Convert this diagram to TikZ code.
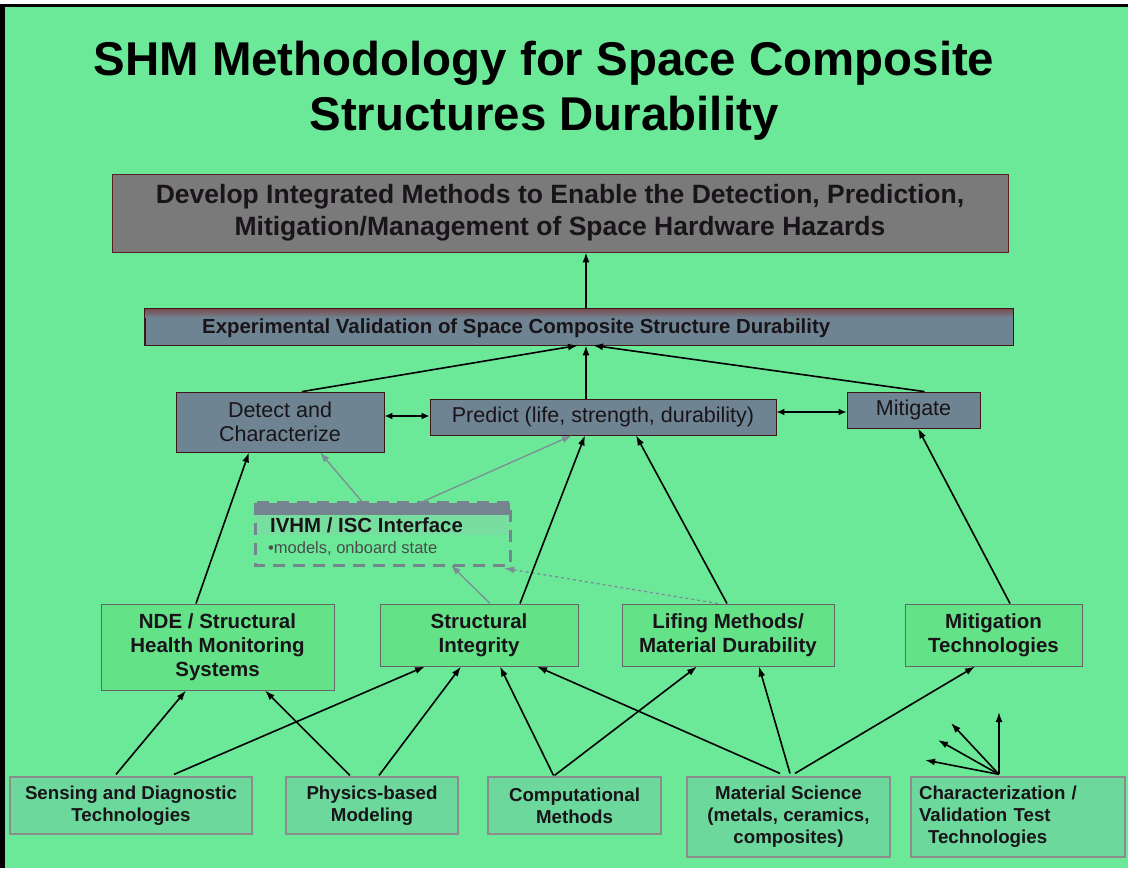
\documentclass[tikz,border=0pt]{standalone}
\usepackage{fontspec}
\setmainfont{Liberation Sans}
\usetikzlibrary{arrows.meta}
\definecolor{bg}{RGB}{107,233,152}
\definecolor{topgray}{RGB}{122,122,122}
\definecolor{slate}{RGB}{111,132,146}
\definecolor{midgreen}{RGB}{100,226,136}
\definecolor{botgreen}{RGB}{108,216,156}
\definecolor{ivgray}{RGB}{117,132,143}
\definecolor{lightband}{RGB}{120,222,160}
\definecolor{darkred}{RGB}{90,30,35}
\definecolor{txt}{RGB}{25,20,25}
\definecolor{arrgray}{RGB}{125,140,150}
\tikzset{
  arr/.style={line width=1.6pt, black, -{Latex[length=10pt,width=7pt]}},
  dblarr/.style={line width=1.6pt, black, {Latex[length=8pt,width=7pt]}-{Latex[length=8pt,width=7pt]}},
  garr/.style={line width=1.3pt, arrgray, -{Latex[length=10pt,width=7pt]}},
  slatebox/.style={draw=darkred!70!black, line width=0.8pt, fill=slate, inner sep=0pt, align=center, text=txt, font=\fontsize{21.5}{24}\selectfont},
  midbox/.style={draw=black!60, line width=1pt, fill=midgreen, inner sep=0pt, align=center, text=txt, font=\fontsize{20.5}{24}\selectfont\bfseries},
  botbox/.style={draw=black!45, line width=1.2pt, fill=botgreen, inner sep=0pt, align=center, text=txt, font=\fontsize{18.7}{22}\selectfont\bfseries},
}
\begin{document}
\begin{tikzpicture}[x=1pt,y=-1pt]
\useasboundingbox (0,0) rectangle (1128,871);
\fill[bg] (0,0) rectangle (1128,868);
\fill[white] (0,868) rectangle (1128,871);
\fill[white] (0,0) rectangle (1128,4);
\fill[black] (0,4) rectangle (1128,7);
\fill[black] (0,4) rectangle (5,868);

% title
\node[anchor=base, font=\fontsize{47.4}{57}\selectfont\bfseries, text=black, inner sep=0pt] (title1) at (544,75) {SHM Methodology for Space Composite};
\node[anchor=base, font=\fontsize{47.4}{57}\selectfont\bfseries, text=black, inner sep=0pt] (title2) at (544,130) {Structures Durability};

% top goal box
\node[draw=darkred, line width=0.8pt, fill=topgray, minimum width=896pt, minimum height=78pt, inner sep=0pt, align=center, text=txt, font=\fontsize{26.5}{32}\selectfont\bfseries] (goal) at (560,213) {Develop Integrated Methods to Enable the Detection, Prediction,\\Mitigation/Management of Space Hardware Hazards};

% experimental validation box
\node[slatebox, minimum width=868pt, minimum height=36pt] (exp) at (579,327) {};
\shade[top color=darkred!80, bottom color=slate] (exp.north west) rectangle ([yshift=-9pt]exp.north east);
\draw[darkred!70!black, line width=0.8pt] (exp.north west) rectangle (exp.south east);
\node[anchor=west, inner sep=0pt, text=txt, font=\fontsize{20.4}{22}\selectfont\bfseries] (explabel) at (202,328) {Experimental Validation of Space Composite Structure Durability};

% second row
\node[slatebox, minimum width=208pt, minimum height=60pt] (detect) at (280,422) {Detect and\\Characterize};
\node[slatebox, minimum width=346pt, minimum height=36pt] (predict) at (603,417) {Predict (life, strength, durability)};
\node[slatebox, minimum width=133pt, minimum height=36pt] (mitigate) at (913.5,410) {Mitigate};

% IVHM box
\node[minimum width=254pt, minimum height=62pt, inner sep=0pt] (ivhm) at (383,534) {};
\fill[ivgray] (ivhm.north west) rectangle ([yshift=-12pt]ivhm.north east);
\fill[lightband] ([yshift=-12pt]ivhm.north west) rectangle ([yshift=-32pt]ivhm.north east);
\draw[ivgray, line width=3pt, dash pattern=on 12pt off 8pt] (ivhm.north west) rectangle (ivhm.south east);
\node[anchor=base west, inner sep=0pt, text=txt, font=\fontsize{20.4}{22}\selectfont\bfseries] (ivhmtitle) at (270,532) {IVHM / ISC Interface};
\node[anchor=base west, inner sep=0pt, text=black!70, font=\fontsize{16.5}{18}\selectfont] (ivhmtext) at (268,553) {\textbullet models, onboard state};

% middle row
\node[midbox, minimum width=233pt, minimum height=86pt] (nde) at (217.5,647) {NDE / Structural\\Health Monitoring\\Systems};
\node[midbox, minimum width=198pt, minimum height=62pt] (si) at (479,635) {Structural\\Integrity};
\node[midbox, minimum width=212pt, minimum height=62pt] (lif) at (728,635) {Lifing Methods/\\Material Durability};
\node[midbox, minimum width=177pt, minimum height=62pt] (mitt) at (993.5,635) {Mitigation\\Technologies};

% bottom row
\node[botbox, minimum width=242pt, minimum height=57pt] (sens) at (131,805.5) {Sensing and Diagnostic\\Technologies};
\node[botbox, minimum width=172pt, minimum height=57pt] (phys) at (372,805.5) {Physics-based\\Modeling};
\node[botbox, minimum width=173pt, minimum height=57pt] (comp) at (574.5,805.5) {Computational\\Methods};
\node[botbox, minimum width=203pt, minimum height=80pt] (mat) at (788.5,817) {Material Science\\(metals, ceramics,\\composites)};
\node[botbox, minimum height=80pt, text width=198pt, inner xsep=8pt, align=left] (char) at (1018,817) {Characterization /\\Validation Test\\\hspace*{9pt}Technologies};

% top connectors
\draw[arr] ([xshift=7pt]exp.north) -- ([xshift=26pt]goal.south);
\draw[arr] ([xshift=22pt]detect.north) -- ([xshift=-1pt]exp.south);
\draw[arr] ([xshift=-17pt]predict.north) -- ([xshift=7pt]exp.south);
\draw[arr] ([xshift=11pt]mitigate.north) -- ([xshift=14pt]exp.south);
\draw[dblarr] ([yshift=6pt]detect.east) -- ([yshift=6pt]detect.east -| predict.west);
\draw[dblarr] ([yshift=5pt]predict.east) -- ([yshift=5pt]predict.east -| mitigate.west);

% gray connectors (IVHM)
\draw[garr] ([xshift=-20pt]ivhm.north) -- ([xshift=40pt]detect.south);
\draw[garr] ([xshift=37pt]ivhm.north) -- ([xshift=-31pt]predict.south);
\draw[garr] ([xshift=11pt]si.north) -- ([xshift=68pt]ivhm.south);
\draw[garr, dashed] ([xshift=-10pt]lif.north) -- ([xshift=-6pt,yshift=-3pt]ivhm.south east);

% middle to upper
\draw[arr] ([xshift=-21.5pt]nde.north) -- ([xshift=-31pt]detect.south);
\draw[arr] ([xshift=41pt]si.north) -- ([xshift=-18pt]predict.south);
\draw[arr] ([xshift=-1pt]lif.north) -- ([xshift=33pt]predict.south);
\draw[arr] ([xshift=16.5pt]mitt.north) -- ([xshift=4.5pt]mitigate.south);

% bottom to middle
\draw[arr] ([xshift=-15pt,yshift=2pt]sens.north) -- ([xshift=-31.5pt]nde.south);
\draw[arr] ([xshift=43pt,yshift=2pt]sens.north) -- ([xshift=-54pt]si.south);
\draw[arr] ([xshift=-22pt,yshift=1pt]phys.north) -- ([xshift=47.5pt]nde.south);
\draw[arr] ([xshift=7pt,yshift=1pt]phys.north) -- ([xshift=-18pt]si.south);
\draw[arr] ([xshift=-21pt,yshift=1pt]comp.north) -- ([xshift=21pt]si.south);
\draw[arr] ([xshift=-20pt,yshift=1pt]comp.north) -- ([xshift=-31pt]lif.south);
\draw[arr] ([xshift=-8.5pt,yshift=3pt]mat.north) -- ([xshift=58pt]si.south);
\draw[arr] ([xshift=1.5pt,yshift=3pt]mat.north) -- ([xshift=31pt]lif.south);
\draw[arr] ([xshift=6.5pt,yshift=3pt]mat.north) -- ([xshift=-18.5pt]mitt.south);

% characterization fan
\coordinate (c0) at ([xshift=-19pt,yshift=2pt]char.north);
\coordinate (f1) at (999,712);
\coordinate (f2) at (951,723);
\coordinate (f3) at (938,740);
\coordinate (f4) at (925,760);
\draw[arr] (c0) -- (f1);
\draw[arr] (c0) -- (f2);
\draw[arr] (c0) -- (f3);
\draw[arr] (c0) -- (f4);
\end{tikzpicture}
\end{document}
